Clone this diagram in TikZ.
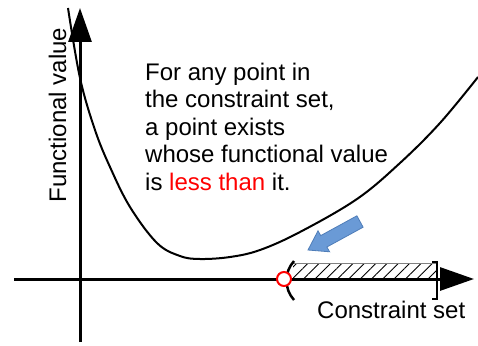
\documentclass[tikz,border=0pt]{standalone}
\usepackage{fontspec}
\setmainfont{Liberation Sans}
\usetikzlibrary{arrows.meta,patterns.meta}
\definecolor{arrowblue}{HTML}{6A9AD6}
\definecolor{arrowedge}{HTML}{4F7DB8}
\begin{document}
\begin{tikzpicture}[x=1pt,y=-1pt,
  axis/.style={line width=3pt,-{Triangle[length=34pt,width=23pt]}},
  lbl/.style={font=\fontsize{24}{27.6}\selectfont,inner sep=0pt}]
\useasboundingbox (0,0) rectangle (478,345);
% axes
\coordinate (xs) at (14,279);\coordinate (xe) at (474,279);
\coordinate (ys) at (80,342);\coordinate (ye) at (80,8);
\draw[axis] (xs)--(xe);
\draw[axis] (ys)--(ye);
% constraint set
\fill[pattern={Lines[angle=45,distance=8pt,line width=0.9pt]}] (293,263) rectangle (437,278);
\draw[gray,line width=0.8pt] (293,263)--(437,263);
\draw[line width=2.5pt] (432,262)--(437,262)--(437,299)--(432,299);
\draw[line width=2.5pt] (294,261) .. controls (284,272) and (284,289) .. (294,300);
\node[circle,draw=red,fill=white,line width=2pt,minimum size=14pt,inner sep=0pt] (open) at (284,279) {};
% function
\draw[line width=2pt] plot[smooth,tension=0.6] coordinates {(68,8) (80,78) (95,130) (110,167) (130,207) (157,243) (180,256) (200,259) (230,257) (260,250) (300,232) (357,199) (400,163) (440,123) (478,77)};
% hint arrow
\draw[fill=arrowblue,draw=arrowedge,line width=0.8pt] (363.1,227.2)--(326.9,247.0)--(329.6,251.8)--(308,250)--(318.0,230.8)--(320.7,235.6)--(356.9,215.8)--cycle;
% labels
\node[lbl,rotate=90,anchor=base] (ylab) at (66,115) {Functional value};
\node[lbl,anchor=base west] (xlab) at (317,318) {Constraint set};
\node[lbl,anchor=base west,align=left] (claim) at (145,190.5) {For any point in\\the constraint set,\\a point exists\\whose functional value\\is \textcolor{red}{less than} it.};
\end{tikzpicture}
\end{document}
